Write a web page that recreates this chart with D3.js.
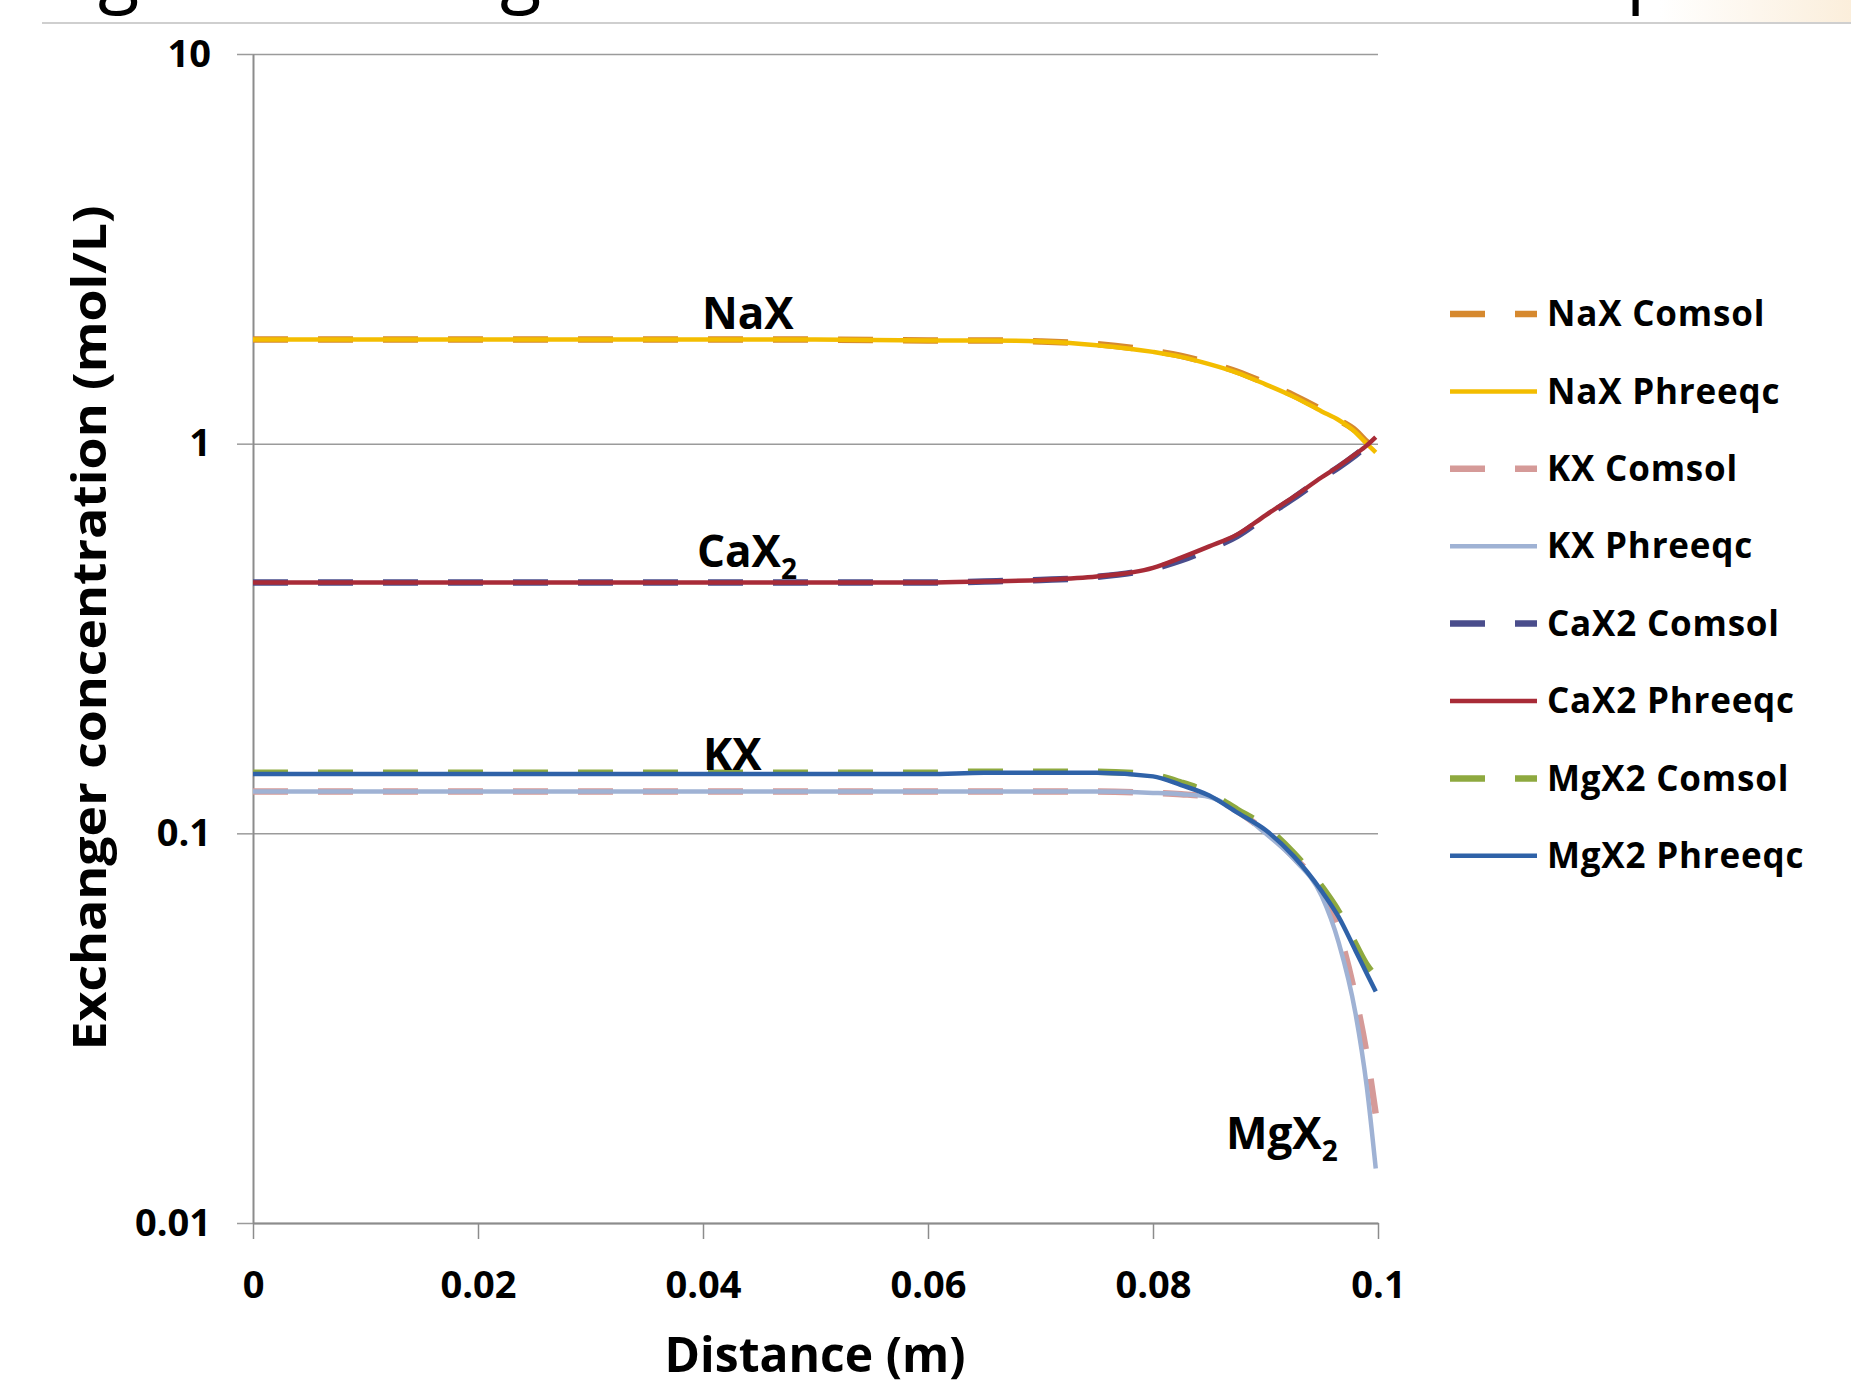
<!DOCTYPE html>
<html>
<head>
<meta charset="utf-8">
<script src="https://cdn.jsdelivr.net/npm/d3@7"></script>
<style>
  body { margin: 0; background: #fff; }
  svg { display: block; }
  text { font-family: "Open Sans", "DejaVu Sans", sans-serif; fill: #000; }
</style>
</head>
<body>
<svg id="chart" width="1851" height="1386"></svg>
<script>
// distance along the column (m)
var distance = [0, 0.01, 0.02, 0.03, 0.04, 0.05, 0.06, 0.065, 0.07, 0.075, 0.08, 0.0825, 0.085, 0.0875, 0.09, 0.0925, 0.095, 0.0965, 0.098, 0.099, 0.0998];

// exchanger concentrations (mol/L)
var naxComsol   = [1.85, 1.85, 1.85, 1.85, 1.85, 1.85, 1.84, 1.84, 1.83, 1.80, 1.73, 1.68, 1.61, 1.53, 1.43, 1.33, 1.22, 1.15, 1.08, 1.01, 0.97];
var naxPhreeqc  = [1.85, 1.85, 1.85, 1.85, 1.85, 1.85, 1.84, 1.84, 1.83, 1.79, 1.72, 1.67, 1.60, 1.52, 1.42, 1.32, 1.21, 1.15, 1.07, 1.00, 0.95];
var kxComsol    = [0.128, 0.128, 0.128, 0.128, 0.128, 0.128, 0.128, 0.128, 0.128, 0.128, 0.127, 0.126, 0.124, 0.114, 0.101, 0.087, 0.071, 0.056, 0.038, 0.027, 0.019];
var kxPhreeqc   = [0.128, 0.128, 0.128, 0.128, 0.128, 0.128, 0.128, 0.128, 0.128, 0.128, 0.127, 0.126, 0.124, 0.114, 0.100, 0.086, 0.069, 0.0525, 0.0345, 0.0224, 0.0138];
var caxComsol   = [0.44, 0.44, 0.44, 0.44, 0.44, 0.44, 0.44, 0.443, 0.447, 0.455, 0.478, 0.502, 0.537, 0.58, 0.65, 0.725, 0.815, 0.87, 0.935, 0.985, 1.03];
var caxPhreeqc  = [0.44, 0.44, 0.44, 0.44, 0.44, 0.44, 0.44, 0.443, 0.447, 0.456, 0.48, 0.51, 0.545, 0.585, 0.655, 0.73, 0.82, 0.875, 0.94, 0.99, 1.04];
var mgxComsol   = [0.143, 0.143, 0.143, 0.143, 0.143, 0.143, 0.143, 0.144, 0.144, 0.144, 0.141, 0.135, 0.127, 0.115, 0.104, 0.089, 0.073, 0.063, 0.052, 0.046, 0.043];
var mgxPhreeqc  = [0.142, 0.142, 0.142, 0.142, 0.142, 0.142, 0.142, 0.143, 0.143, 0.143, 0.140, 0.133, 0.125, 0.113, 0.102, 0.0874, 0.071, 0.061, 0.050, 0.0437, 0.0393];

var seriesNames = ["NaX Comsol", "NaX Phreeqc", "KX Comsol", "KX Phreeqc", "CaX2 Comsol", "CaX2 Phreeqc", "MgX2 Comsol", "MgX2 Phreeqc"];
var seriesValues = [naxComsol, naxPhreeqc, kxComsol, kxPhreeqc, caxComsol, caxPhreeqc, mgxComsol, mgxPhreeqc];
var seriesColors = ["#d6892f", "#f3bd00", "#d59a98", "#9fb2d4", "#4a4d8c", "#a82b37", "#8ea93f", "#2f62a8"];

var xTicks = [0, 0.02, 0.04, 0.06, 0.08, 0.1];
var yTicks = [0.01, 0.1, 1, 10];

var svg = d3.select("#chart");

// plot box (window.top is read only, so no "top" here)
var plotLeft = 253, plotRight = 1378, plotTop = 54, plotBottom = 1223;

var x = d3.scaleLinear().domain([0, 0.1]).range([plotLeft, plotRight]);
var y = d3.scaleLog().domain([0.01, 10]).range([plotBottom, plotTop]);

// slide leftovers above the chart: light corner tint, cut off title, rule
var defs = svg.append("defs");
var grad = defs.append("linearGradient").attr("id", "corner").attr("x1", "0").attr("x2", "1");
grad.append("stop").attr("offset", "0").attr("stop-color", "#ffffff");
grad.append("stop").attr("offset", "1").attr("stop-color", "#fbeedb");
svg.append("rect").attr("x", 1660).attr("y", 0).attr("width", 191).attr("height", 22).attr("fill", "url(#corner)");

var title = svg.append("text").attr("y", -2).style("font-size", "76px").style("font-weight", 400);
title.append("tspan").attr("x", 98).text("g");
title.append("tspan").attr("x", 500).text("g");
title.append("tspan").attr("x", 1626).text("p");

svg.append("line").attr("x1", 42).attr("x2", 1851).attr("y1", 23).attr("y2", 23)
  .attr("stroke", "#cfcfcf").attr("stroke-width", 2);

// gridlines
svg.append("g")
  .attr("transform", "translate(" + plotLeft + ",0)")
  .call(d3.axisLeft(y).tickValues(yTicks).tickSize(-(plotRight - plotLeft)).tickFormat(""))
  .call(function (g) { g.select(".domain").remove() })
  .selectAll("line").attr("stroke", "#9b9b9b").attr("stroke-width", 1.5);

// y axis
var yAxis = svg.append("g")
  .attr("transform", "translate(" + plotLeft + ",0)")
  .call(d3.axisLeft(y).tickValues(yTicks).tickSize(16).tickSizeOuter(0).tickPadding(26)
    .tickFormat(function (d) { return d3.format("~g")(d) }));
yAxis.select(".domain").attr("stroke", "#8c8c8c").attr("stroke-width", 2);
yAxis.selectAll("line").attr("stroke", "#9b9b9b").attr("stroke-width", 1.5);
yAxis.selectAll("text").style("font-size", "38px").style("font-weight", 700)
  .style("font-family", "'Open Sans', sans-serif").attr("fill", "#000");

// x axis
var xAxis = svg.append("g")
  .attr("transform", "translate(0," + plotBottom + ")")
  .call(d3.axisBottom(x).tickValues(xTicks).tickSize(16).tickSizeOuter(0).tickPadding(32)
    .tickFormat(function (d) { return d3.format("~g")(d) }));
xAxis.select(".domain").attr("stroke", "#8c8c8c").attr("stroke-width", 2);
xAxis.selectAll("line").attr("stroke", "#8c8c8c").attr("stroke-width", 1.5);
xAxis.selectAll("text").style("font-size", "38px").style("font-weight", 700)
  .style("font-family", "'Open Sans', sans-serif").attr("fill", "#000");

// axis titles
svg.append("text")
  .attr("transform", "translate(106,628) rotate(-90)")
  .attr("text-anchor", "middle")
  .attr("textLength", 845).attr("lengthAdjust", "spacingAndGlyphs")
  .style("font-size", "47px").style("font-weight", 700)
  .text("Exchanger concentration (mol/L)");

svg.append("text")
  .attr("x", 815).attr("y", 1372)
  .attr("text-anchor", "middle")
  .attr("textLength", 301).attr("lengthAdjust", "spacingAndGlyphs")
  .style("font-size", "49px").style("font-weight", 700)
  .text("Distance (m)");

// series lines, comsol dashed and thicker under phreeqc
var line = d3.line()
  .x(function (d) { return x(d[0]) })
  .y(function (d) { return y(d[1]) })
  .curve(d3.curveMonotoneX);

var plot = svg.append("g").attr("class", "series");
seriesValues.forEach(function (vals, i) {
  var dashed = seriesNames[i].indexOf("Comsol") > -1;
  plot.append("path")
    .datum(distance.map(function (d, j) { return [d, vals[j]] }))
    .attr("d", line)
    .attr("fill", "none")
    .attr("stroke", seriesColors[i])
    .attr("stroke-width", dashed ? 6.5 : 4.5)
    .attr("stroke-dasharray", dashed ? "35,30" : null);
});

// curve labels
function label(txt, sub, cx, by) {
  var t = svg.append("text").attr("x", cx).attr("y", by)
    .style("font-size", "44px").style("font-weight", 700).text(txt);
  if (sub) t.append("tspan").attr("dy", 12).style("font-size", "28px").text(sub);
}
label("NaX", null, 702, 329);
label("CaX", "2", 697, 567);
label("KX", null, 703, 770);
label("MgX", "2", 1226, 1149);

// legend
var legend = svg.append("g").attr("class", "legend");
seriesNames.forEach(function (name, i) {
  var ly = 314 + i * 77.4;
  var dashed = name.indexOf("Comsol") > -1;
  legend.append("line")
    .attr("x1", 1450).attr("x2", 1537).attr("y1", ly).attr("y2", ly)
    .attr("stroke", seriesColors[i])
    .attr("stroke-width", dashed ? 6.5 : 4.5)
    .attr("stroke-dasharray", dashed ? "35,30" : null);
  legend.append("text")
    .attr("x", 1547).attr("y", ly).attr("dy", "0.35em")
    .style("font-size", "35px").style("font-weight", 700)
    .style("letter-spacing", "0.8px")
    .text(name);
});
</script>
</body>
</html>
